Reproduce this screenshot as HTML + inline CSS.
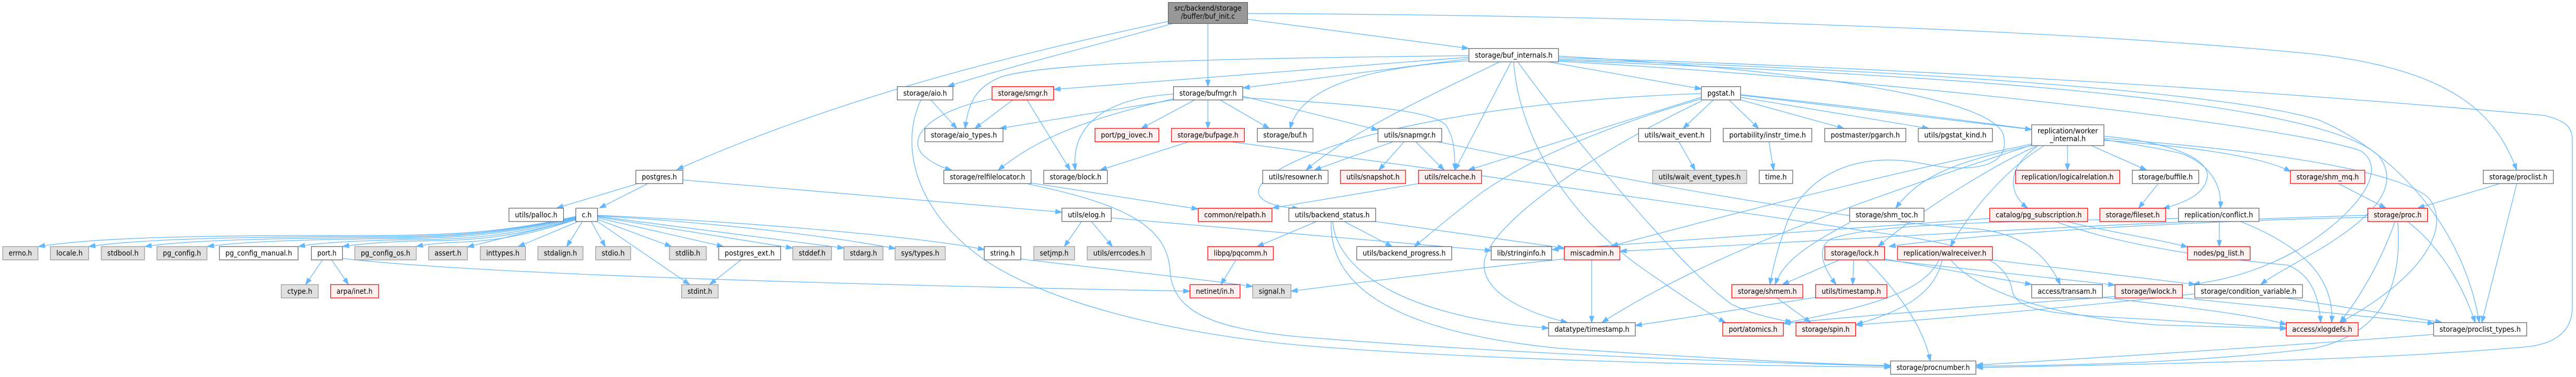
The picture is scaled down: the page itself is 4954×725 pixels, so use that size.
<!DOCTYPE html>
<html><head><meta charset="utf-8"><style>
html,body{margin:0;padding:0;background:#fff;}
svg{display:block;}
.e path{fill:none;stroke:#63b8ff;stroke-width:1.3;marker-end:url(#a);}
rect{stroke-width:1.3;}
.w{fill:#fff;stroke:#666;}
.g{fill:#e0e0e0;stroke:#999;}
.r{fill:#fff0f0;stroke:#ff0000;}
.t{fill:#999;stroke:#666;}
text{font-family:"DejaVu Sans Condensed","DejaVu Sans","Liberation Sans",sans-serif;font-size:14px;fill:#000;text-anchor:middle;}
</style></head><body>
<svg width="4954" height="725" viewBox="0 0 4954 725" xmlns="http://www.w3.org/2000/svg">
<defs><marker id="a" markerUnits="userSpaceOnUse" markerWidth="13" markerHeight="10" viewBox="0 0 13 10" refX="12.5" refY="5" orient="auto"><path d="M0,0.5 L13,5 L0,9.5 Z" fill="#63b8ff" stroke="#63b8ff" stroke-width="1"/></marker></defs>
<g class="e">
<!-- title -->
<path d="M2247,41 C1950,105 1620,185 1302,326"/>
<path d="M2256,45 C2100,90 1950,125 1823,166"/>
<path d="M2323,45 L2323,166"/>
<path d="M2399,37 L2824,93"/>
<path d="M2399,26 C3000,28 3900,50 4450,104 C4720,135 4800,220 4840,327"/>
<!-- buf_internals -->
<path d="M2825,107 C2400,112 2000,118 1920,150 C1875,170 1862,200 1856,247"/>
<path d="M2825,113 L2391,169"/>
<path d="M2825,110 L2027,172"/>
<path d="M2825,117 C2620,130 2500,170 2481,247"/>
<path d="M2884,119 C2780,170 2600,250 2512,327"/>
<path d="M2906,119 L2798,327"/>
<path d="M2978,119 L3272,171"/>
<path d="M2911,119 C2920,250 3000,400 3150,510 C3250,580 3290,605 3318,620"/>
<path d="M2919,119 C3050,300 3250,530 3330,585 C3370,605 3410,612 3446,620"/>
<path d="M2997,108 C3400,130 3830,180 3853,260 C3870,330 3770,330 3700,315 C3580,290 3480,330 3440,420 C3420,470 3408,520 3404,547"/>
<path d="M2997,111 C3500,125 4200,160 4893,222 C4935,232 4947,245 4947,270 L4947,590 C4947,640 4910,662 4858,667 C4600,690 4300,697 3801,707"/>
<path d="M2997,114 C3700,135 4300,180 4460,231 C4620,300 4740,450 4768,620"/>
<path d="M2997,116 C3600,140 4450,180 4575,300 C4620,360 4560,420 4460,480 C4400,515 4370,530 4348,547"/>
<path d="M2997,118 C3600,150 4400,240 4540,290 C4600,330 4520,420 4420,480 C4330,530 4260,540 4218,547"/>
<!-- aio -->
<path d="M1790,192 L1840,247"/>
<path d="M1771,192 C1730,280 1760,400 1880,490 C2000,580 2250,640 2490,663 C2800,690 3300,703 3636,706"/>
<!-- smgr -->
<path d="M1948,192 L1875,247"/>
<path d="M1975,192 L2058,327"/>
<path d="M1908,190 C1800,210 1740,260 1775,298 C1790,312 1810,322 1830,327"/>
<!-- bufmgr -->
<path d="M2298,192 L2195,247"/>
<path d="M2323,192 L2323,247"/>
<path d="M2346,192 L2441,247"/>
<path d="M2257,181 C2100,190 2060,260 2068,327"/>
<path d="M2257,190 C2080,230 1990,270 1920,327"/>
<path d="M2257,192 L1923,247"/>
<path d="M2390,185 L2650,250"/>
<path d="M2390,188 C2600,200 2750,210 2780,240 C2795,260 2798,290 2798,327"/>
<!-- bufpage -->
<path d="M2285,273 L2116,327"/>
<path d="M2369,273 C2800,330 3300,400 3585,444 C3800,470 3860,500 3870,560 C3880,600 3950,605 4150,615 L4397,631"/>
<!-- snapmgr -->
<path d="M2678,273 L2528,327"/>
<path d="M2700,273 L2652,327"/>
<path d="M2723,273 L2777,327"/>
<path d="M2766,273 C3100,340 3500,420 3800,440 C3900,450 3940,500 3962,547"/>
<!-- relcache -->
<path d="M2728,353 L2447,400"/>
<!-- pgstat -->
<path d="M3295,192 L3237,247"/>
<path d="M3325,192 L3382,247"/>
<path d="M3347,192 L3546,247"/>
<path d="M3347,187 L3709,247"/>
<path d="M3347,183 L3907,249"/>
<path d="M3272,187 L2824,327"/>
<path d="M3272,180 C2950,190 2650,240 2514,300 C2430,335 2395,370 2440,390 C2460,398 2480,400 2498,401"/>
<path d="M3272,190 C3100,240 2950,300 2850,370 C2790,415 2750,450 2720,474"/>
<path d="M3273,194 C3050,300 2870,430 2855,500 C2845,560 2930,600 3014,620"/>
<path d="M3347,182 C3800,230 4150,280 4200,297 C4255,320 4273,360 4270,400"/>
<path d="M3402,273 L3411,327"/>
<path d="M3229,273 L3260,327"/>
<!-- postgres -->
<path d="M1227,353 L1071,400"/>
<path d="M1246,353 L1153,400"/>
<path d="M1313,346 L2042,408"/>
<!-- c.h -->
<path d="M1108,416 C980,445 880,453 700,453 C350,452 180,458 74,474"/>
<path d="M1108,417 C980,446 880,455 720,455 C450,455 270,460 171,474"/>
<path d="M1108,418 C980,447 890,456 740,457 C520,458 360,462 279,474"/>
<path d="M1108,419 C985,448 900,458 760,459 C600,460 470,464 399,474"/>
<path d="M1108,420 C990,450 920,460 800,461 C700,462 620,466 574,474"/>
<path d="M1108,421 C1000,452 930,462 830,463 C760,464 700,468 659,474"/>
<path d="M1108,422 C1010,455 940,464 880,466 C850,467 820,470 801,474"/>
<path d="M1107,423 L899,475"/>
<path d="M1112,426 L997,474"/>
<path d="M1120,426 L1090,474"/>
<path d="M1137,426 L1164,474"/>
<path d="M1149,426 L1326,547"/>
<path d="M1149,422 L1291,474"/>
<path d="M1149,419 L1391,474"/>
<path d="M1149,417 L1524,477"/>
<path d="M1149,416 L1623,477"/>
<path d="M1149,415 C1400,430 1600,455 1722,478"/>
<path d="M1149,414 C1500,430 1800,460 1893,480"/>
<path d="M1425,500 L1365,547"/>
<path d="M620,500 L588,547"/>
<path d="M638,500 L670,547"/>
<path d="M658,497 C900,525 1500,545 2288,560"/>
<!-- elog -->
<path d="M2080,426 L2047,474"/>
<path d="M2099,426 L2139,474"/>
<path d="M2137,419 L2868,482"/>
<!-- relfilelocator -->
<path d="M1978,351 L2304,402"/>
<path d="M1978,354 C2150,390 2245,430 2250,520 C2255,600 2330,630 2490,647 C2900,680 3300,695 3636,704"/>
<path d="M2377,500 L2348,547"/>
<!-- backend_status -->
<path d="M2532,426 L2418,474"/>
<path d="M2585,426 L2677,474"/>
<path d="M2645,426 L3008,477"/>
<path d="M2563,426 C2570,520 2700,610 2978,631"/>
<path d="M2560,426 C2555,560 2700,640 3000,670 C3300,690 3500,700 3636,703"/>
<!-- miscadmin -->
<path d="M3061,500 L3061,620"/>
<path d="M3008,498 C2800,520 2600,545 2483,560"/>
<path d="M1963,498 C2100,515 2300,535 2409,551"/>
<path d="M3491,572 C3350,595 3250,610 3145,626"/>
<!-- worker_internal -->
<path d="M3976,280 L3976,327"/>
<path d="M4022,280 L4128,327"/>
<path d="M3919,281 C3860,320 3860,370 3899,400"/>
<path d="M3907,280 C3760,310 3690,340 3646,400"/>
<path d="M3916,281 C3830,320 3700,400 3612,474"/>
<path d="M3930,281 C3850,330 3780,420 3751,474"/>
<path d="M3907,277 C3600,340 3300,420 3099,473"/>
<path d="M3907,279 C3600,380 3300,480 3081,620"/>
<path d="M4046,266 C4300,285 4600,320 4670,380 C4720,440 4650,540 4500,620"/>
<path d="M4046,270 C4200,280 4350,300 4405,330"/>
<path d="M4046,262 C4150,270 4250,300 4245,340 C4240,375 4200,390 4160,401"/>
<path d="M4150,354 L4113,400"/>
<!-- pg_subscription -->
<path d="M3827,420 L2985,480"/>
<path d="M3953,426 C4100,480 4300,500 4400,510 C4450,530 4460,580 4463,620"/>
<path d="M3975,426 C4050,445 4150,460 4207,475"/>
<!-- conflict -->
<path d="M4268,426 L4268,474"/>
<path d="M4309,426 C4420,470 4490,530 4484,620"/>
<path d="M4189,420 C3900,425 3600,428 3520,460 C3490,480 3510,520 3531,547"/>
<!-- proc -->
<path d="M4553,418 C4200,425 3800,450 3633,474"/>
<path d="M4553,414 C4000,430 3400,470 3116,483"/>
<path d="M4606,426 C4580,500 4540,570 4500,620"/>
<path d="M4611,426 C4620,540 4590,640 4450,670 C4200,700 3950,703 3801,704"/>
<path d="M4630,426 C4700,480 4740,560 4760,620"/>
<!-- proclist -->
<path d="M4805,354 L4650,400"/>
<path d="M4840,354 L4773,620"/>
<path d="M4499,354 L4588,400"/>
<!-- condvar, lwlock, transam -->
<path d="M4396,573 L4696,620"/>
<path d="M4221,565 C4000,590 3700,615 3569,625"/>
<path d="M4197,573 L4681,622"/>
<path d="M4068,570 C3800,590 3550,610 3430,622"/>
<path d="M4043,572 C4200,590 4330,605 4397,624"/>
<!-- walreceiver -->
<path d="M3752,500 C3800,560 3950,610 4150,625 L4397,632"/>
<path d="M3832,500 L4222,547"/>
<path d="M3729,500 C3700,560 3600,590 3431,621"/>
<path d="M3735,500 C3720,570 3650,600 3570,624"/>
<!-- lock -->
<path d="M3624,500 L4067,548"/>
<path d="M3624,498 L3907,547"/>
<path d="M3537,500 L3428,547"/>
<path d="M3565,500 L3563,547"/>
<path d="M3589,500 C3650,560 3700,630 3712,694"/>
<path d="M3417,573 L3482,620"/>
<path d="M3557,428 C3480,470 3430,500 3414,547"/>
<path d="M4681,643 C4400,665 4000,690 3801,702"/>
</g>
<g>
<rect class="t" x="2246.7" y="4.7" width="152.6" height="40.6"/>
<text x="2323" y="20.7" textLength="129" lengthAdjust="spacingAndGlyphs">src/backend/storage</text>
<text x="2323" y="36" textLength="104" lengthAdjust="spacingAndGlyphs">/buffer/buf_init.c</text>

<rect class="w" x="2825" y="93.4" width="172.2" height="25.6"/><text x="2911.1" y="110.9" textLength="149.2" lengthAdjust="spacingAndGlyphs">storage/buf_internals.h</text>

<rect class="w" x="1725.6" y="166.6" width="107" height="25.6"/><text x="1779.1" y="184.1" textLength="84" lengthAdjust="spacingAndGlyphs">storage/aio.h</text>
<rect class="r" x="1907.8" y="166.6" width="118.5" height="25.6"/><text x="1967.05" y="184.1" textLength="95.5" lengthAdjust="spacingAndGlyphs">storage/smgr.h</text>
<rect class="w" x="2256.7" y="166.6" width="133.3" height="25.6"/><text x="2323.35" y="184.1" textLength="110.3" lengthAdjust="spacingAndGlyphs">storage/bufmgr.h</text>
<rect class="w" x="3272" y="166.6" width="75.4" height="25.6"/><text x="3309.7" y="184.1" textLength="52.4" lengthAdjust="spacingAndGlyphs">pgstat.h</text>

<rect class="w" x="1778.6" y="247" width="150.3" height="25.6"/><text x="1853.75" y="264.5" textLength="127.3" lengthAdjust="spacingAndGlyphs">storage/aio_types.h</text>
<rect class="r" x="2105.8" y="247" width="122.8" height="25.6"/><text x="2167.2" y="264.5" textLength="99.8" lengthAdjust="spacingAndGlyphs">port/pg_iovec.h</text>
<rect class="r" x="2252.9" y="247" width="140.3" height="25.6"/><text x="2323.05" y="264.5" textLength="117.3" lengthAdjust="spacingAndGlyphs">storage/bufpage.h</text>
<rect class="w" x="2418" y="247" width="107" height="25.6"/><text x="2471.5" y="264.5" textLength="84" lengthAdjust="spacingAndGlyphs">storage/buf.h</text>
<rect class="w" x="2650" y="247" width="122.6" height="25.6"/><text x="2711.3" y="264.5" textLength="99.6" lengthAdjust="spacingAndGlyphs">utils/snapmgr.h</text>
<rect class="w" x="3151.2" y="247" width="138.4" height="25.6"/><text x="3220.4" y="264.5" textLength="115.4" lengthAdjust="spacingAndGlyphs">utils/wait_event.h</text>
<rect class="w" x="3314" y="247" width="170.4" height="25.6"/><text x="3399.2" y="264.5" textLength="147.4" lengthAdjust="spacingAndGlyphs">portability/instr_time.h</text>
<rect class="w" x="3509.2" y="247" width="156" height="25.6"/><text x="3587.2" y="264.5" textLength="133" lengthAdjust="spacingAndGlyphs">postmaster/pgarch.h</text>
<rect class="w" x="3689" y="247" width="142.7" height="25.6"/><text x="3760.35" y="264.5" textLength="119.7" lengthAdjust="spacingAndGlyphs">utils/pgstat_kind.h</text>
<rect class="w" x="3907.2" y="240" width="138.9" height="40"/>
<text x="3976.65" y="256.5" textLength="116" lengthAdjust="spacingAndGlyphs">replication/worker</text>
<text x="3976.65" y="271.5" textLength="69" lengthAdjust="spacingAndGlyphs">_internal.h</text>

<rect class="w" x="1222.8" y="327.4" width="90.5" height="25.6"/><text x="1268.05" y="344.9" textLength="67.5" lengthAdjust="spacingAndGlyphs">postgres.h</text>
<rect class="w" x="1815.1" y="327.4" width="167.9" height="25.6"/><text x="1899.05" y="344.9" textLength="144.9" lengthAdjust="spacingAndGlyphs">storage/relfilelocator.h</text>
<rect class="w" x="2007.3" y="327.4" width="122.3" height="25.6"/><text x="2068.45" y="344.9" textLength="99.3" lengthAdjust="spacingAndGlyphs">storage/block.h</text>
<rect class="w" x="2428.4" y="327.4" width="125.7" height="25.6"/><text x="2491.25" y="344.9" textLength="102.7" lengthAdjust="spacingAndGlyphs">utils/resowner.h</text>
<rect class="r" x="2577.8" y="327.4" width="125.4" height="25.6"/><text x="2640.5" y="344.9" textLength="102.4" lengthAdjust="spacingAndGlyphs">utils/snapshot.h</text>
<rect class="r" x="2727.9" y="327.4" width="121.4" height="25.6"/><text x="2788.6" y="344.9" textLength="98.4" lengthAdjust="spacingAndGlyphs">utils/relcache.h</text>
<rect class="g" x="3178.2" y="327.4" width="181" height="25.6"/><text x="3268.7" y="344.9" textLength="158" lengthAdjust="spacingAndGlyphs">utils/wait_event_types.h</text>
<rect class="w" x="3383.2" y="327.4" width="64.4" height="25.6"/><text x="3415.4" y="344.9" textLength="41.4" lengthAdjust="spacingAndGlyphs">time.h</text>
<rect class="r" x="3876.2" y="327.4" width="200.2" height="25.6"/><text x="3976.3" y="344.9" textLength="177.2" lengthAdjust="spacingAndGlyphs">replication/logicalrelation.h</text>
<rect class="w" x="4100.6" y="327.4" width="127.9" height="25.6"/><text x="4164.55" y="344.9" textLength="104.9" lengthAdjust="spacingAndGlyphs">storage/buffile.h</text>
<rect class="r" x="4404.9" y="327.4" width="143" height="25.6"/><text x="4476.4" y="344.9" textLength="120" lengthAdjust="spacingAndGlyphs">storage/shm_mq.h</text>
<rect class="w" x="4775.6" y="327.4" width="134.9" height="25.6"/><text x="4843.05" y="344.9" textLength="111.9" lengthAdjust="spacingAndGlyphs">storage/proclist.h</text>

<rect class="w" x="978.8" y="400.4" width="104.8" height="25.6"/><text x="1031.2" y="417.9" textLength="81.8" lengthAdjust="spacingAndGlyphs">utils/palloc.h</text>
<rect class="w" x="1107.4" y="400.4" width="41.8" height="25.6"/><text x="1128.3" y="417.9" textLength="18.8" lengthAdjust="spacingAndGlyphs">c.h</text>
<rect class="w" x="2042.2" y="400.4" width="94.8" height="25.6"/><text x="2089.6" y="417.9" textLength="71.8" lengthAdjust="spacingAndGlyphs">utils/elog.h</text>
<rect class="r" x="2304.3" y="400.4" width="141.8" height="25.6"/><text x="2375.2" y="417.9" textLength="118.8" lengthAdjust="spacingAndGlyphs">common/relpath.h</text>
<rect class="w" x="2478.6" y="400.4" width="167" height="25.6"/><text x="2562.1" y="417.9" textLength="144" lengthAdjust="spacingAndGlyphs">utils/backend_status.h</text>
<rect class="w" x="3557.1" y="400.4" width="143" height="25.6"/><text x="3628.6" y="417.9" textLength="120" lengthAdjust="spacingAndGlyphs">storage/shm_toc.h</text>
<rect class="r" x="3826.5" y="400.4" width="188.4" height="25.6"/><text x="3920.7" y="417.9" textLength="165.4" lengthAdjust="spacingAndGlyphs">catalog/pg_subscription.h</text>
<rect class="r" x="4038.3" y="400.4" width="126.6" height="25.6"/><text x="4101.6" y="417.9" textLength="103.6" lengthAdjust="spacingAndGlyphs">storage/fileset.h</text>
<rect class="w" x="4189.5" y="400.4" width="154.9" height="25.6"/><text x="4266.95" y="417.9" textLength="131.9" lengthAdjust="spacingAndGlyphs">replication/conflict.h</text>
<rect class="r" x="4553.6" y="400.4" width="114.9" height="25.6"/><text x="4611.05" y="417.9" textLength="91.9" lengthAdjust="spacingAndGlyphs">storage/proc.h</text>

<rect class="g" x="5.3" y="474.2" width="67.7" height="25.6"/><text x="39.15" y="491.7" textLength="44.7" lengthAdjust="spacingAndGlyphs">errno.h</text>
<rect class="g" x="96.9" y="474.2" width="73.6" height="25.6"/><text x="133.7" y="491.7" textLength="50.6" lengthAdjust="spacingAndGlyphs">locale.h</text>
<rect class="g" x="194.8" y="474.2" width="83.2" height="25.6"/><text x="236.4" y="491.7" textLength="60.2" lengthAdjust="spacingAndGlyphs">stdbool.h</text>
<rect class="g" x="301.8" y="474.2" width="96.2" height="25.6"/><text x="349.9" y="491.7" textLength="73.2" lengthAdjust="spacingAndGlyphs">pg_config.h</text>
<rect class="w" x="422" y="474.2" width="151.3" height="25.6"/><text x="497.65" y="491.7" textLength="128.3" lengthAdjust="spacingAndGlyphs">pg_config_manual.h</text>
<rect class="w" x="598.8" y="474.2" width="59.8" height="25.6"/><text x="628.7" y="491.7" textLength="36.8" lengthAdjust="spacingAndGlyphs">port.h</text>
<rect class="g" x="682.4" y="474.2" width="118.1" height="25.6"/><text x="741.45" y="491.7" textLength="95.1" lengthAdjust="spacingAndGlyphs">pg_config_os.h</text>
<rect class="g" x="824.3" y="474.2" width="74.5" height="25.6"/><text x="861.55" y="491.7" textLength="51.5" lengthAdjust="spacingAndGlyphs">assert.h</text>
<rect class="g" x="923.7" y="474.2" width="86.8" height="25.6"/><text x="967.1" y="491.7" textLength="63.8" lengthAdjust="spacingAndGlyphs">inttypes.h</text>
<rect class="g" x="1034.4" y="474.2" width="86.8" height="25.6"/><text x="1077.8" y="491.7" textLength="63.8" lengthAdjust="spacingAndGlyphs">stdalign.h</text>
<rect class="g" x="1145.5" y="474.2" width="67.3" height="25.6"/><text x="1179.15" y="491.7" textLength="44.3" lengthAdjust="spacingAndGlyphs">stdio.h</text>
<rect class="g" x="1287.4" y="474.2" width="70.9" height="25.6"/><text x="1322.85" y="491.7" textLength="47.9" lengthAdjust="spacingAndGlyphs">stdlib.h</text>
<rect class="w" x="1382.2" y="474.2" width="119.1" height="25.6"/><text x="1441.75" y="491.7" textLength="96.1" lengthAdjust="spacingAndGlyphs">postgres_ext.h</text>
<rect class="g" x="1524.6" y="474.2" width="74.6" height="25.6"/><text x="1561.9" y="491.7" textLength="51.6" lengthAdjust="spacingAndGlyphs">stddef.h</text>
<rect class="g" x="1623" y="474.2" width="75.1" height="25.6"/><text x="1660.55" y="491.7" textLength="52.1" lengthAdjust="spacingAndGlyphs">stdarg.h</text>
<rect class="g" x="1721.4" y="474.2" width="96.4" height="25.6"/><text x="1769.6" y="491.7" textLength="73.4" lengthAdjust="spacingAndGlyphs">sys/types.h</text>
<rect class="w" x="1892.9" y="474.2" width="70.4" height="25.6"/><text x="1928.1" y="491.7" textLength="47.4" lengthAdjust="spacingAndGlyphs">string.h</text>
<rect class="g" x="1988.2" y="474.2" width="78.4" height="25.6"/><text x="2027.4" y="491.7" textLength="55.4" lengthAdjust="spacingAndGlyphs">setjmp.h</text>
<rect class="g" x="2090.9" y="474.2" width="122.9" height="25.6"/><text x="2152.35" y="491.7" textLength="99.9" lengthAdjust="spacingAndGlyphs">utils/errcodes.h</text>
<rect class="r" x="2322.8" y="474.2" width="126" height="25.6"/><text x="2385.8" y="491.7" textLength="103" lengthAdjust="spacingAndGlyphs">libpq/pqcomm.h</text>
<rect class="w" x="2609.2" y="474.2" width="182.6" height="25.6"/><text x="2700.5" y="491.7" textLength="159.6" lengthAdjust="spacingAndGlyphs">utils/backend_progress.h</text>
<rect class="w" x="2867.7" y="474.2" width="116.3" height="25.6"/><text x="2925.85" y="491.7" textLength="93.3" lengthAdjust="spacingAndGlyphs">lib/stringinfo.h</text>
<rect class="r" x="3008.3" y="474.2" width="106.9" height="25.6"/><text x="3061.75" y="491.7" textLength="83.9" lengthAdjust="spacingAndGlyphs">miscadmin.h</text>
<rect class="r" x="3509.5" y="474.2" width="114.8" height="25.6"/><text x="3566.9" y="491.7" textLength="91.8" lengthAdjust="spacingAndGlyphs">storage/lock.h</text>
<rect class="r" x="3649.1" y="474.2" width="182.6" height="25.6"/><text x="3740.4" y="491.7" textLength="159.6" lengthAdjust="spacingAndGlyphs">replication/walreceiver.h</text>
<rect class="r" x="4206.9" y="474.2" width="120.5" height="25.6"/><text x="4267.15" y="491.7" textLength="97.5" lengthAdjust="spacingAndGlyphs">nodes/pg_list.h</text>

<rect class="g" x="541" y="547.4" width="71" height="25.6"/><text x="576.5" y="564.9" textLength="48" lengthAdjust="spacingAndGlyphs">ctype.h</text>
<rect class="r" x="635.8" y="547.4" width="92.2" height="25.6"/><text x="681.9" y="564.9" textLength="69.2" lengthAdjust="spacingAndGlyphs">arpa/inet.h</text>
<rect class="g" x="1310.7" y="547.4" width="70.4" height="25.6"/><text x="1345.9" y="564.9" textLength="47.4" lengthAdjust="spacingAndGlyphs">stdint.h</text>
<rect class="r" x="2288.4" y="547.4" width="96.3" height="25.6"/><text x="2336.55" y="564.9" textLength="73.3" lengthAdjust="spacingAndGlyphs">netinet/in.h</text>
<rect class="g" x="2409.1" y="547.4" width="73.6" height="25.6"/><text x="2445.9" y="564.9" textLength="50.6" lengthAdjust="spacingAndGlyphs">signal.h</text>
<rect class="r" x="3330.5" y="547.4" width="136.6" height="25.6"/><text x="3398.8" y="564.9" textLength="113.6" lengthAdjust="spacingAndGlyphs">storage/shmem.h</text>
<rect class="r" x="3491.7" y="547.4" width="137.2" height="25.6"/><text x="3560.3" y="564.9" textLength="114.2" lengthAdjust="spacingAndGlyphs">utils/timestamp.h</text>
<rect class="w" x="3907.3" y="547.4" width="136" height="25.6"/><text x="3975.3" y="564.9" textLength="113" lengthAdjust="spacingAndGlyphs">access/transam.h</text>
<rect class="r" x="4067.5" y="547.4" width="129.7" height="25.6"/><text x="4132.35" y="564.9" textLength="106.7" lengthAdjust="spacingAndGlyphs">storage/lwlock.h</text>
<rect class="w" x="4220.8" y="547.4" width="207.2" height="25.6"/><text x="4324.4" y="564.9" textLength="184.2" lengthAdjust="spacingAndGlyphs">storage/condition_variable.h</text>

<rect class="w" x="2978.1" y="620.5" width="166.8" height="25.6"/><text x="3061.5" y="638" textLength="143.8" lengthAdjust="spacingAndGlyphs">datatype/timestamp.h</text>
<rect class="r" x="3313.1" y="620.5" width="116.5" height="25.6"/><text x="3371.35" y="638" textLength="93.5" lengthAdjust="spacingAndGlyphs">port/atomics.h</text>
<rect class="r" x="3453.8" y="620.5" width="114.8" height="25.6"/><text x="3511.2" y="638" textLength="91.8" lengthAdjust="spacingAndGlyphs">storage/spin.h</text>
<rect class="r" x="4396.7" y="620.5" width="138.4" height="25.6"/><text x="4465.9" y="638" textLength="115.4" lengthAdjust="spacingAndGlyphs">access/xlogdefs.h</text>
<rect class="w" x="4680.2" y="620.5" width="179" height="25.6"/><text x="4769.7" y="638" textLength="156" lengthAdjust="spacingAndGlyphs">storage/proclist_types.h</text>

<rect class="w" x="3635.8" y="694.2" width="164.1" height="25.6"/><text x="3717.85" y="711.7" textLength="141.1" lengthAdjust="spacingAndGlyphs">storage/procnumber.h</text>
</g>
</svg>
</body></html>
